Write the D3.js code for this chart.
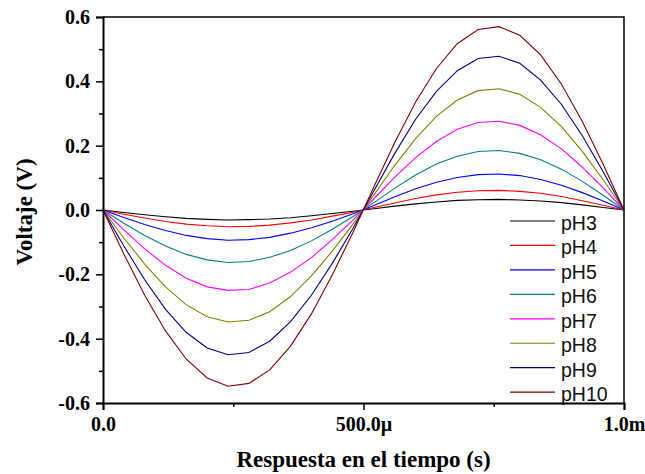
<!DOCTYPE html>
<html>
<head>
<meta charset="utf-8">
<script src="https://cdn.jsdelivr.net/npm/d3@7"></script>
<style>
  body { margin: 0; background: #fff; }
  svg { display: block; }
</style>
</head>
<body>
<svg width="645" height="474"></svg>
<script>
// time in microseconds (sampled every 40us)
const times = [0, 40, 80, 120, 160, 200, 240, 280, 320, 360, 400, 440, 480,
  520, 560, 600, 640, 680, 720, 760, 800, 840, 880, 920, 960, 1000];

const pH3 = [0, -0.008, -0.015, -0.021, -0.026, -0.029, -0.031, -0.030, -0.028, -0.024, -0.018, -0.011, -0.004,
  0.004, 0.012, 0.019, 0.025, 0.030, 0.032, 0.033, 0.031, 0.028, 0.023, 0.016, 0.008, 0];
const pH4 = [0, -0.013, -0.025, -0.036, -0.044, -0.049, -0.052, -0.051, -0.047, -0.040, -0.031, -0.019, -0.007,
  0.008, 0.022, 0.036, 0.047, 0.055, 0.060, 0.061, 0.058, 0.052, 0.042, 0.029, 0.015, 0];
const pH5 = [0, -0.023, -0.045, -0.064, -0.079, -0.089, -0.094, -0.092, -0.085, -0.072, -0.055, -0.035, -0.012,
  0.014, 0.041, 0.066, 0.086, 0.101, 0.110, 0.112, 0.107, 0.095, 0.077, 0.054, 0.028, 0];
const pH6 = [0, -0.041, -0.079, -0.112, -0.138, -0.155, -0.163, -0.160, -0.147, -0.126, -0.096, -0.060, -0.020,
  0.023, 0.068, 0.109, 0.143, 0.167, 0.182, 0.185, 0.176, 0.156, 0.127, 0.089, 0.046, 0];
const pH7 = [0, -0.062, -0.121, -0.172, -0.212, -0.239, -0.250, -0.247, -0.227, -0.193, -0.148, -0.092, -0.031,
  0.035, 0.102, 0.163, 0.213, 0.251, 0.272, 0.276, 0.263, 0.234, 0.190, 0.133, 0.069, 0];
const pH8 = [0, -0.087, -0.168, -0.239, -0.295, -0.332, -0.348, -0.343, -0.316, -0.269, -0.205, -0.128, -0.044,
  0.047, 0.139, 0.222, 0.291, 0.342, 0.371, 0.377, 0.360, 0.319, 0.259, 0.182, 0.094, 0];
const pH9 = [0, -0.112, -0.217, -0.309, -0.381, -0.429, -0.450, -0.443, -0.408, -0.347, -0.265, -0.166, -0.057,
  0.060, 0.176, 0.282, 0.369, 0.433, 0.471, 0.478, 0.456, 0.404, 0.328, 0.231, 0.119, 0];
const pH10 = [0, -0.137, -0.265, -0.376, -0.464, -0.522, -0.548, -0.539, -0.497, -0.423, -0.323, -0.202, -0.069,
  0.072, 0.210, 0.336, 0.440, 0.517, 0.561, 0.570, 0.543, 0.482, 0.391, 0.275, 0.142, 0];

const seriesNames = ['pH3', 'pH4', 'pH5', 'pH6', 'pH7', 'pH8', 'pH9', 'pH10'];
const seriesValues = [pH3, pH4, pH5, pH6, pH7, pH8, pH9, pH10];
const seriesColors = ['#000000', '#ff0000', '#0000ff', '#008080', '#ff00ff', '#808000', '#000080', '#800000'];

const xTicks = [0, 500, 1000];
const xTickLabels = ['0.0', '500.0\u00b5', '1.0m'];
const xMinorTicks = [250, 750];
const yTicks = [-0.6, -0.4, -0.2, 0.0, 0.2, 0.4, 0.6];
const yMinorTicks = [-0.5, -0.3, -0.1, 0.1, 0.3, 0.5];

var serif = "'Liberation Serif', 'Times New Roman', serif";
var sans = "'Liberation Sans', Arial, sans-serif";

var svg = d3.select('svg');
var margin = { left: 103, top: 17, right: 21, bottom: 71 };
var width = 645 - margin.left - margin.right;
var height = 474 - margin.top - margin.bottom;

var x = d3.scaleLinear().domain([0, 1000]).range([margin.left, margin.left + width]);
var y = d3.scaleLinear().domain([-0.6, 0.6]).range([margin.top + height, margin.top]);

// curves first, frame on top
var line = d3.line()
  .x(function(d, i) { return x(times[i]); })
  .y(function(d) { return y(d); });

svg.append('g').selectAll('path')
  .data(seriesValues)
  .enter().append('path')
  .attr('fill', 'none')
  .attr('stroke-width', 1.1)
  .attr('stroke', function(d, i) { return seriesColors[i]; })
  .attr('d', line);

// top / right frame (no ticks there)
svg.append('path')
  .attr('fill', 'none').attr('stroke', '#000').attr('stroke-width', 1.5)
  .attr('d', 'M' + x(0) + ',' + y(0.6) + 'H' + x(1000) + 'V' + y(-0.6));

// https://github.com/d3/d3-axis
var yAxis = svg.append('g')
  .attr('transform', 'translate(' + margin.left + ',0)')
  .call(d3.axisLeft(y).tickValues(yTicks).tickSize(7).tickPadding(6)
    .tickFormat(function(d) { return d.toFixed(1).replace('-0.0', '0.0'); }));
var yMinor = svg.append('g')
  .attr('transform', 'translate(' + margin.left + ',0)')
  .call(d3.axisLeft(y).tickValues(yMinorTicks).tickFormat('').tickSize(4));

var xAxis = svg.append('g')
  .attr('transform', 'translate(0,' + (margin.top + height) + ')')
  .call(d3.axisBottom(x).tickValues(xTicks).tickSize(7).tickPadding(7)
    .tickFormat(function(d, i) { return xTickLabels[i]; }));
var xMinor = svg.append('g')
  .attr('transform', 'translate(0,' + (margin.top + height) + ')')
  .call(d3.axisBottom(x).tickValues(xMinorTicks).tickFormat('').tickSize(4));

yMinor.select('.domain').remove();
xMinor.select('.domain').remove();

[yAxis, xAxis, yMinor, xMinor].forEach(function(g) {
  g.selectAll('.domain').attr('stroke', '#000').attr('stroke-width', 2);
  g.selectAll('.tick line').attr('stroke', '#000').attr('stroke-width', 1.5);
  g.selectAll('.tick text')
    .attr('fill', '#000')
    .style('font-family', serif)
    .style('font-weight', 'bold')
    .style('font-size', '20px');
});

// axis titles
svg.append('text')
  .attr('transform', 'translate(31.5,212) rotate(-90)')
  .attr('text-anchor', 'middle')
  .style('font-family', serif).style('font-weight', 'bold').style('font-size', '23px')
  .text('Voltaje (V)');
svg.append('text')
  .attr('x', x(500)).attr('y', 467)
  .attr('text-anchor', 'middle')
  .style('font-family', serif).style('font-weight', 'bold').style('font-size', '23px')
  .text('Respuesta en el tiempo (s)');

// legend
var legend = svg.append('g')
  .selectAll('g').data(seriesNames)
  .enter().append('g')
  .attr('transform', function(d, i) { return 'translate(510,' + (221 + i * 24.45) + ')'; });
legend.append('line')
  .attr('x1', 0).attr('x2', 45)
  .attr('stroke-width', 1.2)
  .attr('stroke', function(d, i) { return seriesColors[i]; });
legend.append('text')
  .attr('x', 51).attr('dy', '0.46em')
  .attr('fill', '#111')
  .style('font-family', sans).style('font-size', '19.5px')
  .text(function(d) { return d; });
</script>
</body>
</html>
